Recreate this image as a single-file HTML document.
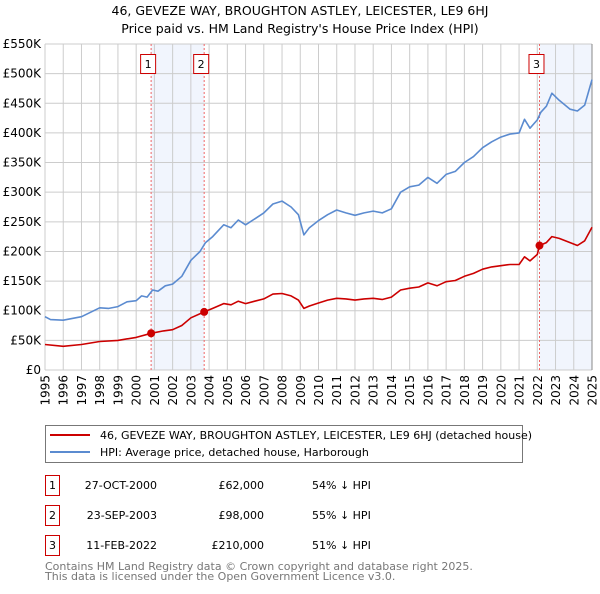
<!DOCTYPE html>
<html><head><meta charset="utf-8"><style>
body{margin:0;background:#fff;font-family:"DejaVu Sans","Liberation Sans",sans-serif;}
svg text{font-family:"DejaVu Sans","Liberation Sans",sans-serif;}
</style></head><body>
<svg id="chart" width="600" height="590" xmlns="http://www.w3.org/2000/svg">
<text x="300" y="15" text-anchor="middle" font-size="12.5" fill="#000">46, GEVEZE WAY, BROUGHTON ASTLEY, LEICESTER, LE9 6HJ</text>
<text x="300" y="33" text-anchor="middle" font-size="12.5" fill="#000">Price paid vs. HM Land Registry's House Price Index (HPI)</text>
<g id="plot"></g>
<g>
<rect x="45.5" y="425.5" width="477" height="37" fill="#fff" stroke="#777"/>
<line x1="50" y1="435" x2="90" y2="435" stroke="#cc0000" stroke-width="2"/>
<text x="100" y="439" font-size="11" fill="#000">46, GEVEZE WAY, BROUGHTON ASTLEY, LEICESTER, LE9 6HJ (detached house)</text>
<line x1="50" y1="452" x2="90" y2="452" stroke="#5b8bd0" stroke-width="2"/>
<text x="100" y="456" font-size="11" fill="#000">HPI: Average price, detached house, Harborough</text>
</g>
<g font-size="11" fill="#000">
<rect x="45.5" y="475.5" width="14" height="20" fill="#fff" stroke="#cc0000"/><text x="52.5" y="489" text-anchor="middle">1</text>
<text x="157" y="489" text-anchor="end">27-OCT-2000</text><text x="264" y="489" text-anchor="end">£62,000</text><text x="312" y="489">54% ↓ HPI</text>
<rect x="45.5" y="505.5" width="14" height="20" fill="#fff" stroke="#cc0000"/><text x="52.5" y="519" text-anchor="middle">2</text>
<text x="157" y="519" text-anchor="end">23-SEP-2003</text><text x="264" y="519" text-anchor="end">£98,000</text><text x="312" y="519">55% ↓ HPI</text>
<rect x="45.5" y="535.5" width="14" height="20" fill="#fff" stroke="#cc0000"/><text x="52.5" y="549" text-anchor="middle">3</text>
<text x="157" y="549" text-anchor="end">11-FEB-2022</text><text x="264" y="549" text-anchor="end">£210,000</text><text x="312" y="549">51% ↓ HPI</text>
</g>
<text x="45" y="570" font-size="11" fill="#777">Contains HM Land Registry data © Crown copyright and database right 2025.</text>
<text x="45" y="580" font-size="11" fill="#777">This data is licensed under the Open Government Licence v3.0.</text>
</svg>
<script>
const hpiYears=[1995,1995.3,1996,1997,1998,1998.5,1999,1999.5,2000,2000.3,2000.6,2000.9,2001.2,2001.6,2002,2002.5,2003,2003.5,2003.8,2004.2,2004.8,2005.2,2005.6,2006,2006.5,2007,2007.5,2008,2008.5,2008.9,2009.2,2009.5,2010,2010.5,2011,2011.5,2012,2012.5,2013,2013.5,2014,2014.5,2015,2015.5,2016,2016.5,2017,2017.5,2018,2018.5,2019,2019.5,2020,2020.5,2021,2021.3,2021.6,2022,2022.2,2022.5,2022.8,2023.2,2023.8,2024.2,2024.6,2025];
const hpiValues=[90,85,84,90,105,104,107,115,117,125,123,135,133,142,145,158,185,200,215,225,245,240,253,245,255,265,280,285,275,262,228,240,252,262,270,265,261,265,268,265,272,300,309,312,325,315,330,335,350,360,375,385,393,398,400,423,408,422,435,445,467,455,440,437,447,490];
const priceYears=[1995,1996,1997,1998,1999,2000,2000.82,2001.5,2002,2002.5,2003,2003.73,2004.2,2004.8,2005.2,2005.6,2006,2006.5,2007,2007.5,2008,2008.5,2008.9,2009.2,2009.5,2010,2010.5,2011,2011.5,2012,2012.5,2013,2013.5,2014,2014.5,2015,2015.5,2016,2016.5,2017,2017.5,2018,2018.5,2019,2019.5,2020,2020.5,2021,2021.3,2021.6,2022,2022.12,2022.5,2022.8,2023.2,2023.8,2024.2,2024.6,2025];
const priceValues=[43,40,43,48,50,55,62,66,68,75,88,98,104,112,110,116,112,116,120,128,129,125,118,104,108,113,118,121,120,118,120,121,119,123,135,138,140,147,142,149,151,158,163,170,174,176,178,178,191,184,195,210,215,225,222,215,210,218,241];
const saleYears=[2000.82,2003.73,2022.12];
const saleValues=[62,98,210];
const saleLabels=["1","2","3"];
const yTicks=[0,50,100,150,200,250,300,350,400,450,500,550];
const yTickLabels=["£0","£50K","£100K","£150K","£200K","£250K","£300K","£350K","£400K","£450K","£500K","£550K"];
const xTicks=[1995,1996,1997,1998,1999,2000,2001,2002,2003,2004,2005,2006,2007,2008,2009,2010,2011,2012,2013,2014,2015,2016,2017,2018,2019,2020,2021,2022,2023,2024,2025];

const L=45,R=592,T=44,B=370;
const xS=y=>L+(y-1995)/30*(R-L);
const yS=v=>B-v/550*(B-T);
const NS="http://www.w3.org/2000/svg";
const g=document.getElementById('plot');
function mk(t,a){const e=document.createElementNS(NS,t);for(const k in a)e.setAttribute(k,a[k]);g.appendChild(e);return e;}
let e=mk('rect',{x:xS(saleYears[0]),y:T,width:xS(saleYears[1])-xS(saleYears[0]),height:B-T,fill:'#eef3fc',opacity:0.8});


e=mk('rect',{x:xS(saleYears[2]),y:T,width:R-xS(saleYears[2]),height:B-T,fill:'#eef3fc',opacity:0.8});


yTicks.forEach((v,i)=>{
  let l=mk('line',{x1:L,x2:R,y1:yS(v),y2:yS(v),stroke:'#ccc','stroke-width':1});
  
  
  let t=mk('text',{x:L-4,y:yS(v)+4,'text-anchor':'end','font-size':12,fill:'#000'});
  t.textContent=yTickLabels[i];
  
  
});
xTicks.forEach(y=>{
  let l=mk('line',{x1:xS(y),x2:xS(y),y1:T,y2:B,stroke:'#ccc','stroke-width':1});
  
  
  let t=mk('text',{x:0,y:0,'text-anchor':'end','font-size':12,fill:'#000',transform:`translate(${xS(y)+4.5},${B+5}) rotate(-90)`});
  t.textContent=y;
  
  
});
e=mk('line',{x1:R,x2:R,y1:T,y2:B,stroke:'#888','stroke-width':1});


saleYears.forEach((y,i)=>{
  let l=mk('line',{x1:xS(y),x2:xS(y),y1:T,y2:B,stroke:'#ee6666','stroke-width':1,'stroke-dasharray':'2,2'});
  
  
});
function path(xs,vs,c,name){
  let d=xs.map((x,i)=>(i?'L':'M')+xS(x).toFixed(1)+','+yS(vs[i]).toFixed(1)).join('');
  let p=mk('path',{d:d,fill:'none',stroke:c,'stroke-width':1.6,'stroke-linejoin':'round'});
  
  
}
path(hpiYears,hpiValues,'#5b8bd0','hpi-line');
path(priceYears,priceValues,'#cc0000','price-paid-line');
saleYears.forEach((y,i)=>{
  let c=mk('circle',{cx:xS(y),cy:yS(saleValues[i]),r:4,fill:'#cc0000'});
  
  
  let r=mk('rect',{x:xS(y)-10.5,y:54.5,width:15,height:19,fill:'#fff',stroke:'#cc0000'});
  
  
  let t=mk('text',{x:xS(y)-3,y:68,'text-anchor':'middle','font-size':11,fill:'#000'});
  t.textContent=saleLabels[i];
  
  
});
</script>
</body></html>
